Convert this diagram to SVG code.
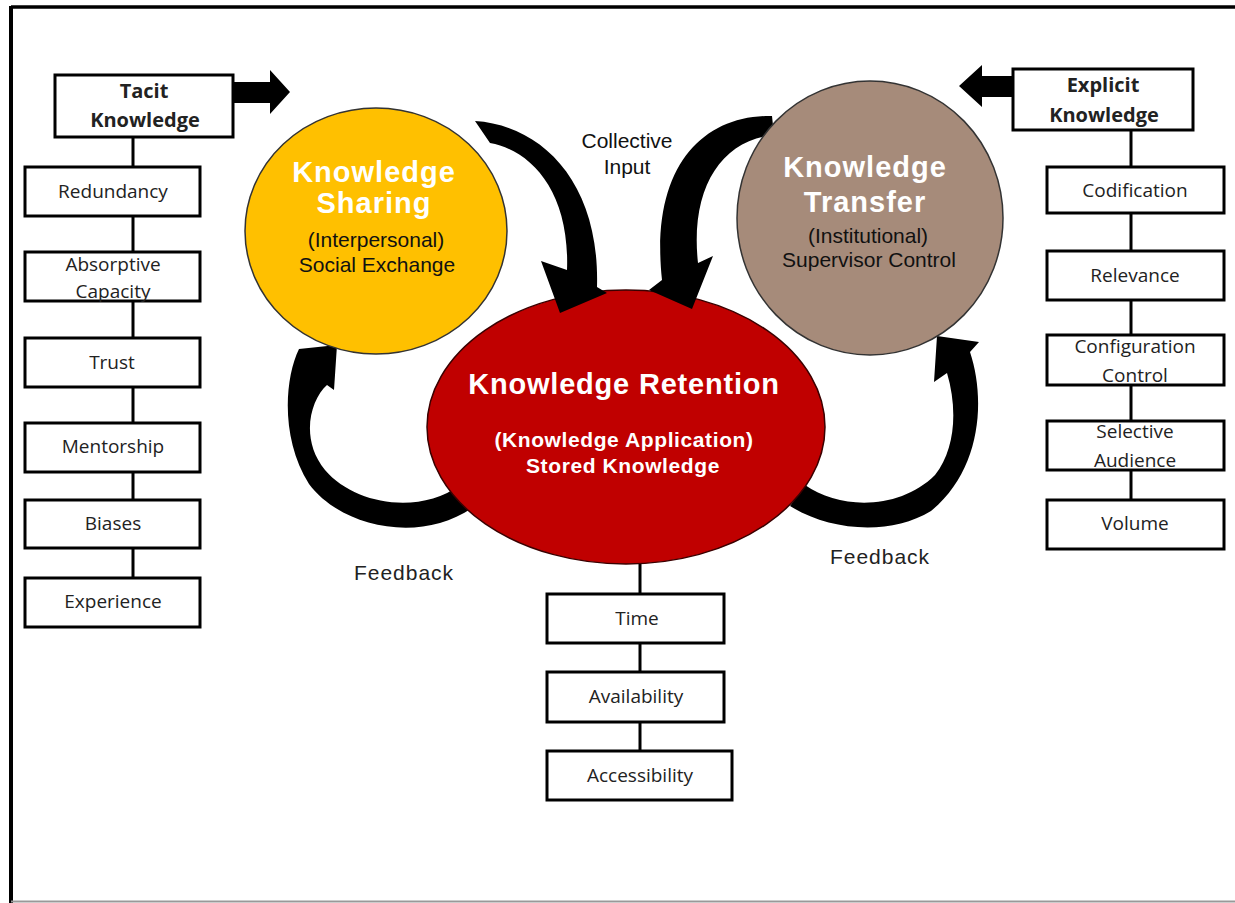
<svg xmlns="http://www.w3.org/2000/svg" width="1235" height="903" viewBox="0 0 1235 903">
<style>
.box{fill:#fff;stroke:#000;stroke-width:3}
.bt{font-family:"Open Sans","Noto Sans",sans-serif;font-size:19px;fill:#222;text-anchor:middle}
.bb{font-family:"Open Sans","Noto Sans",sans-serif;font-size:20px;font-weight:bold;fill:#222;text-anchor:middle}
.ln{stroke:#000;stroke-width:3;fill:none}
.arr{fill:#000}
.big{font-family:"Liberation Sans",Arial,sans-serif;font-weight:bold;fill:#fff;text-anchor:middle}
.sub{font-family:"Liberation Sans",Arial,sans-serif;font-size:21px;fill:#111;text-anchor:middle}
.lab{font-family:"Liberation Sans",Arial,sans-serif;font-size:21px;fill:#222;text-anchor:middle;letter-spacing:1px}
</style>
<rect width="1235" height="903" fill="#fff"/>
<g id="frame">
<line x1="11" y1="7" x2="1235" y2="7" stroke="#000" stroke-width="3.5"/>
<line x1="11" y1="6" x2="11" y2="903" stroke="#000" stroke-width="4"/>
<line x1="11" y1="901.5" x2="1235" y2="901.5" stroke="#999" stroke-width="2"/>
</g>
<g id="connectors">
<line class="ln" x1="133" y1="137" x2="133" y2="578"/>
<line class="ln" x1="1131" y1="130" x2="1131" y2="500"/>
<line class="ln" x1="640" y1="560" x2="640" y2="751"/>
<polygon class="arr" points="233,82 270,82 270,70 290,92 270,114 270,103 233,103"/>
<polygon class="arr" points="1013,76 982,76 982,65 959,86 982,107 982,97 1013,97"/>
<path class="arr" d="M337 345 L299 349 C284 380 281 440 309 484 C340 526 420 546 475 506 L460 485 C420 515 355 505 325 470 C300 440 310 400 327 385 L334 390 Z"/>
<path class="arr" d="M937 336 L979 342 L970 352 C986 400 981 470 931 511 C890 536 830 531 790 506 L805 485 C840 510 900 510 935 475 C955 450 958 410 947 373 L934 382 Z"/>
</g>
<g id="retention">
<ellipse cx="626" cy="427" rx="199" ry="137" fill="#C00000" stroke="#3a0000" stroke-width="1.5"/>
<text class="big" x="624" y="394" font-size="29" letter-spacing="0.8">Knowledge Retention</text>
<text class="big" x="624" y="447" font-size="21" letter-spacing="0.6">(Knowledge Application)</text>
<text class="big" x="623" y="473" font-size="21" letter-spacing="0.6">Stored Knowledge</text>
</g>
<g id="collective-arrows">
<path class="arr" d="M475 121 C540 125 600 180 597 287 L607 293 L560 313 L541 261 L567 270 C570 190 530 150 490 143 Z"/>
<path class="arr" d="M772 116 C700 115 650 170 662 280 L649 290 L692 309 L713 256 L698 263 C690 190 720 140 774 135 Z"/>
</g>
<g id="sharing">
<ellipse cx="376" cy="231" rx="131" ry="123" fill="#FFC000" stroke="#333" stroke-width="1.5"/>
<text class="big" x="374" y="182" font-size="29" letter-spacing="1">Knowledge</text>
<text class="big" x="374" y="213" font-size="29" letter-spacing="1">Sharing</text>
<text class="sub" x="376" y="247">(Interpersonal)</text>
<text class="sub" x="377" y="272">Social Exchange</text>
</g>
<g id="transfer">
<ellipse cx="870" cy="218" rx="133" ry="137" fill="#A68B7A" stroke="#333" stroke-width="1.5"/>
<text class="big" x="865" y="177" font-size="29" letter-spacing="1">Knowledge</text>
<text class="big" x="865" y="212" font-size="29" letter-spacing="1">Transfer</text>
<text class="sub" x="868" y="243">(Institutional)</text>
<text class="sub" x="869" y="267">Supervisor Control</text>
</g>
<g id="collective-input">
<text class="sub" x="627" y="148">Collective</text>
<text class="sub" x="627" y="174">Input</text>
</g>
<g id="feedback-left"><text class="lab" x="404" y="580">Feedback</text></g>
<g id="feedback-right"><text class="lab" x="880" y="564">Feedback</text></g>
<g id="tacit"><rect class="box" x="55" y="75" width="178" height="62"/><text class="bb" x="144" y="98">Tacit</text><text class="bb" x="145" y="127">Knowledge</text></g>
<g id="redundancy"><rect class="box" x="25" y="167" width="175" height="49"/><text class="bt" x="113" y="198">Redundancy</text></g>
<g id="absorptive"><rect class="box" x="25" y="252" width="175" height="49"/><text class="bt" x="113" y="271">Absorptive</text><text class="bt" x="113" y="298">Capacity</text></g>
<g id="trust"><rect class="box" x="25" y="338" width="175" height="49"/><text class="bt" x="112" y="369">Trust</text></g>
<g id="mentorship"><rect class="box" x="25" y="423" width="175" height="49"/><text class="bt" x="113" y="453">Mentorship</text></g>
<g id="biases"><rect class="box" x="25" y="500" width="175" height="48"/><text class="bt" x="113" y="530">Biases</text></g>
<g id="experience"><rect class="box" x="25" y="578" width="175" height="49"/><text class="bt" x="113" y="608">Experience</text></g>
<g id="explicit"><rect class="box" x="1013" y="69" width="180" height="61"/><text class="bb" x="1103" y="92">Explicit</text><text class="bb" x="1104" y="122">Knowledge</text></g>
<g id="codification"><rect class="box" x="1047" y="167" width="177" height="46"/><text class="bt" x="1135" y="197">Codification</text></g>
<g id="relevance"><rect class="box" x="1047" y="251" width="177" height="49"/><text class="bt" x="1135" y="282">Relevance</text></g>
<g id="configuration"><rect class="box" x="1047" y="335" width="177" height="50"/><text class="bt" x="1135" y="353">Configuration</text><text class="bt" x="1135" y="382">Control</text></g>
<g id="selective"><rect class="box" x="1047" y="421" width="177" height="49"/><text class="bt" x="1135" y="438">Selective</text><text class="bt" x="1135" y="467">Audience</text></g>
<g id="volume"><rect class="box" x="1047" y="500" width="177" height="49"/><text class="bt" x="1135" y="530">Volume</text></g>
<g id="time"><rect class="box" x="547" y="594" width="177" height="49"/><text class="bt" x="637" y="625">Time</text></g>
<g id="availability"><rect class="box" x="547" y="672" width="177" height="50"/><text class="bt" x="636" y="703">Availability</text></g>
<g id="accessibility"><rect class="box" x="547" y="751" width="185" height="49"/><text class="bt" x="640" y="782">Accessibility</text></g>
</svg>
